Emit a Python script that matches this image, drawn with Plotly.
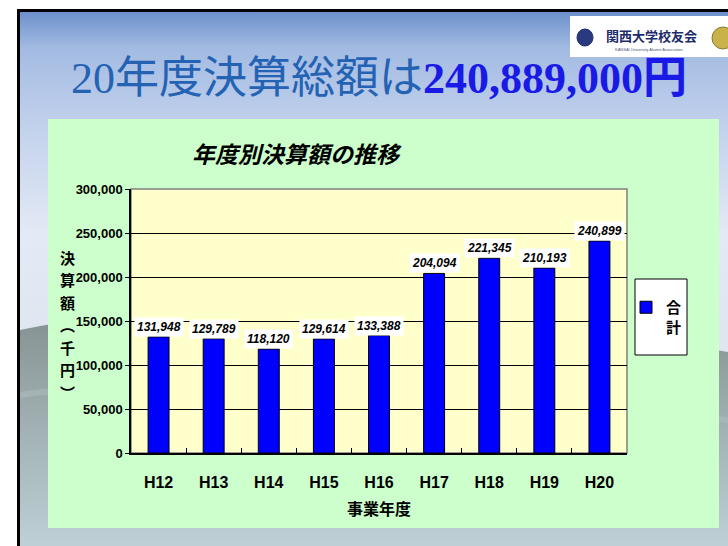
import base64
import plotly.graph_objects as go

# ---------------- data ----------------
years = ["H12", "H13", "H14", "H15", "H16", "H17", "H18", "H19", "H20"]
totals = [131948, 129789, 118120, 129614, 133388, 204094, 221345, 210193, 240899]
series_name = "合計"
y_ticks = [0, 50000, 100000, 150000, 200000, 250000, 300000]

slide_title_a = "20年度決算総額は"
slide_title_b = "240,889,000円"
chart_title = "年度別決算額の推移"
x_title = "事業年度"
y_title_chars = ["決", "算", "額", "︵", "千", "円", "︶"]
logo_text = "関西大学校友会"
logo_sub = "KANSAI University Alumni Association"

# ---------------- geometry helpers ----------------
FW, FH = 728, 546
L, R, T, B = 131, 627, 189, 453
W, H = R - L, B - T


def px(x):
    return (x - L) / W


def py(y):
    return (B - y) / H


SANS = "Liberation Sans, Arial, Noto Sans CJK JP, sans-serif"
CJK = "Noto Sans CJK JP, Liberation Sans, sans-serif"

# ---------------- slide background (SVG) ----------------
svg = f"""<svg xmlns="http://www.w3.org/2000/svg" width="{FW}" height="{FH}" viewBox="0 0 {FW} {FH}" preserveAspectRatio="none">
<defs>
<linearGradient id="sky" x1="0" y1="0" x2="0" y2="1">
<stop offset="0" stop-color="#6b8fcb"/>
<stop offset="0.07" stop-color="#a3bbe2"/>
<stop offset="0.2" stop-color="#bfcfeb"/>
<stop offset="0.42" stop-color="#e4eaf5"/>
<stop offset="0.6" stop-color="#dfe6f0"/>
</linearGradient>
<linearGradient id="mt" x1="0" y1="0" x2="0" y2="1">
<stop offset="0" stop-color="#84908f"/>
<stop offset="0.45" stop-color="#9eaeb0"/>
<stop offset="1" stop-color="#bed0d6"/>
</linearGradient>
</defs>
<rect width="{FW}" height="{FH}" fill="#ffffff"/>
<rect x="20" y="11" width="{FW-20}" height="{FH-11}" fill="url(#sky)"/>
<path d="M20,330 C160,300 420,300 728,352 L728,546 L20,546 Z" fill="url(#mt)"/>
<path d="M20,395 C120,380 300,380 728,420" stroke="#b0bec0" stroke-width="6" fill="none" opacity="0.5"/>
<rect x="17" y="9" width="3" height="{FH-9}" fill="#000000"/>
<rect x="17" y="9" width="{FW-17}" height="3" fill="#000000"/>
</svg>"""
bg_uri = "data:image/svg+xml;base64," + base64.b64encode(svg.encode("utf-8")).decode("ascii")

# ---------------- figure ----------------
fig = go.Figure()
fig.add_trace(go.Bar(
    x=years,
    y=totals,
    name=series_name[0] + "<br>" + series_name[1],
    marker=dict(color="#0000ff", line=dict(color="#000000", width=1)),
    hoverinfo="x+y",
))

shapes = [
    # green chart box
    dict(type="rect", xref="paper", yref="paper", x0=px(48), x1=px(719), y0=py(528), y1=py(119),
         fillcolor="#ccffcc", line=dict(width=0), layer="below"),
    # plot area
    dict(type="rect", xref="paper", yref="paper", x0=0, x1=1, y0=0, y1=1,
         fillcolor="#ffffcc", line=dict(color="#808080", width=1.5), layer="below"),
    # legend box
    dict(type="rect", xref="paper", yref="paper", x0=px(635), x1=px(687), y0=py(355), y1=py(279),
         fillcolor="#ffffff", line=dict(color="#000000", width=1), layer="below"),
    # logo box
    dict(type="rect", xref="paper", yref="paper", x0=px(570), x1=px(728), y0=py(57), y1=py(16),
         fillcolor="#ffffff", line=dict(width=0), layer="below"),
    # logo emblems
    dict(type="circle", xref="paper", yref="paper", x0=px(577), x1=px(593), y0=py(46), y1=py(29),
         fillcolor="#2a3a80", line=dict(color="#1c2b6b", width=1), layer="below"),
    dict(type="circle", xref="paper", yref="paper", x0=px(712), x1=px(734), y0=py(49), y1=py(27),
         fillcolor="#c9b24a", line=dict(color="#8a7a30", width=1), layer="below"),
]

annotations = []
# slide title
annotations.append(dict(
    xref="paper", yref="paper", x=px(379), y=py(79), xanchor="center", yanchor="middle",
    text=(f'<span style="color:#2462b4">{slide_title_a}</span>'
          f'<b><span style="color:#1a1ae6">{slide_title_b}</span></b>'),
    font=dict(family="Liberation Serif, Times New Roman, Noto Sans CJK JP, serif", size=44),
    showarrow=False,
))
# logo text
annotations.append(dict(
    xref="paper", yref="paper", x=px(651), y=py(35), xanchor="center", yanchor="middle",
    text=logo_text, font=dict(family=CJK, size=13, color="#1c2b6b", weight="bold"), showarrow=False,
))
annotations.append(dict(
    xref="paper", yref="paper", x=px(649), y=py(49), xanchor="center", yanchor="middle",
    text=logo_sub, font=dict(family=SANS, size=4, color="#4a5580"), showarrow=False,
))
# chart title
annotations.append(dict(
    xref="paper", yref="paper", x=px(297), y=py(153), xanchor="center", yanchor="middle",
    text=chart_title, font=dict(family=CJK, size=23, color="#000000", weight="bold", style="italic"),
    showarrow=False,
))
# vertical y-axis title
for i, ch in enumerate(y_title_chars):
    annotations.append(dict(
        xref="paper", yref="paper", x=px(67), y=py(257 + i * 22.5), xanchor="center", yanchor="middle",
        text=ch, font=dict(family=CJK, size=15, color="#000000", weight="bold"), showarrow=False,
    ))
# data labels
for xv, v in zip(years, totals):
    annotations.append(dict(
        x=xv, y=v, xref="x", yref="y", xanchor="center", yanchor="bottom",
        text=f"{v:,}", showarrow=False, bgcolor="#ffffff", borderpad=2,
        font=dict(family=SANS, size=12, color="#000000", weight="bold", style="italic"),
    ))

fig.update_layout(
    width=FW, height=FH, autosize=False,
    margin=dict(l=L, r=FW - R, t=T, b=FH - B, pad=0),
    paper_bgcolor="#ffffff",
    plot_bgcolor="rgba(0,0,0,0)",
    bargap=0.62,
    showlegend=True,
    legend=dict(
        x=px(626), y=py(291), xanchor="left", yanchor="top",
        bgcolor="rgba(0,0,0,0)", borderwidth=0, valign="top",
        font=dict(family=CJK, size=15, color="#000000", weight="bold"),
        itemwidth=30,
    ),
    images=[dict(
        source=bg_uri, xref="paper", yref="paper",
        x=px(0), y=py(0), sizex=FW / W, sizey=FH / H,
        xanchor="left", yanchor="top", sizing="stretch", layer="below",
    )],
    shapes=shapes,
    annotations=annotations,
    xaxis=dict(
        type="category",
        showline=True, linecolor="#000000", linewidth=1.5,
        ticks="inside", tickson="boundaries", ticklen=5, tickcolor="#000000",
        tickfont=dict(family=SANS, size=16, color="#000000", weight="bold"),
        ticklabelstandoff=14,
        showgrid=False,
        title=dict(text=x_title, font=dict(family=CJK, size=16, color="#000000", weight="bold"), standoff=14),
    ),
    yaxis=dict(
        range=[0, 300000],
        tickvals=y_ticks,
        tickformat=",",
        showline=True, linecolor="#000000", linewidth=1.5,
        ticks="outside", ticklen=4, tickcolor="#000000",
        tickfont=dict(family=SANS, size=13, color="#000000", weight="bold"),
        showgrid=True, gridcolor="#000000", gridwidth=1,
        zeroline=False,
    ),
)

fig.write_html(
    "out.html",
    config={"displayModeBar": False},
    post_script="document.body.style.margin='0';document.documentElement.style.overflow='hidden';",
)
